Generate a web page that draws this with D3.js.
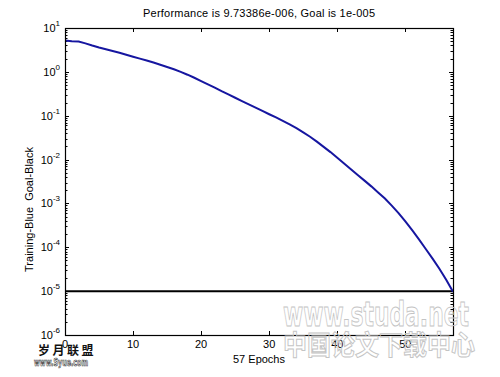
<!DOCTYPE html>
<html lang="en">
  <head>
    <meta charset="utf-8" />
    <title>Training performance</title>
    <script src="https://d3js.org/d3.v7.min.js"></script>
    <style>
      body {
        margin: 0;
        background: #fff;
        font-family: 'Liberation Sans', Arial, sans-serif;
      }
      svg {
        display: block;
      }
      .lbl {
        font-size: 11px;
        fill: #000;
      }
    </style>
  </head>
  <body>
    <div id="chart"></div>
    <script>
      /* ----------------------------- DATA ----------------------------- */
      // training error per epoch
      const epochs = d3.range(0, 58);
      const perf = [
        5.2, 5.0, 4.9, 4.47, 3.98, 3.59, 3.27, 2.99, 2.72, 2.45,
        2.21, 2.0, 1.82, 1.63, 1.455, 1.294, 1.143, 1.0, 0.861, 0.733,
        0.617, 0.519, 0.437, 0.363, 0.305, 0.257, 0.216, 0.182, 0.153, 0.129,
        0.108, 0.0912, 0.0759, 0.0631, 0.0519, 0.0417, 0.0331, 0.0257, 0.0195, 0.0148,
        0.011, 0.00813, 0.00603, 0.00447, 0.00331, 0.00245, 0.00178, 0.00129, 0.000891, 0.000603,
        0.000389, 0.000245, 0.000151, 0.0000912, 0.000055, 0.0000324, 0.0000182, 0.00000973,
      ];
      const goal = 1e-5;
      const xTicks = [0, 10, 20, 30, 40, 50];
      const yExps = [1, 0, -1, -2, -3, -4, -5, -6];

      const titleText = 'Performance is 9.73386e-006, Goal is 1e-005';
      const xLabel = '57 Epochs';
      const yLabel = 'Training-Blue  Goal-Black';

      /* ---------------------------- LAYOUT ---------------------------- */
      const svgW = 500,
        svgH = 377,
        m = { t: 28, l: 65 },
        w = 388,
        h = 307;

      const root = d3
        .select('#chart')
        .append('svg')
        .attr('width', svgW)
        .attr('height', svgH);

      const svg = root.append('g').attr('transform', `translate(${m.l},${m.t})`);

      /* ---------------------------- SCALES ---------------------------- */
      const x = d3.scaleLinear().domain([0, 57]).range([0, w]);
      const y = d3.scaleLog().domain([1e-6, 10]).range([h, 0]);

      /* ----------------------------- TICKS ---------------------------- */
      const minor = [];
      yExps.slice(1).forEach((e) => {
        for (let k = 2; k <= 9; k++) minor.push(k * Math.pow(10, e));
      });

      const tickG = svg.append('g').attr('stroke', '#000').attr('stroke-width', 1);

      // x ticks, inward on bottom and top
      xTicks.slice(1).forEach((t) => {
        const px = Math.round(x(t)) + 0.5;
        tickG.append('line').attr('x1', px).attr('x2', px).attr('y1', h).attr('y2', h - 4);
        tickG.append('line').attr('x1', px).attr('x2', px).attr('y1', 0).attr('y2', 4);
      });

      // y major & minor ticks, inward on left and right
      yExps.forEach((e) => {
        const py = Math.round(y(Math.pow(10, e))) + 0.5;
        tickG.append('line').attr('x1', 0).attr('x2', 4).attr('y1', py).attr('y2', py);
        tickG.append('line').attr('x1', w).attr('x2', w - 4).attr('y1', py).attr('y2', py);
      });
      minor.forEach((v) => {
        const py = Math.round(y(v)) + 0.5;
        tickG.append('line').attr('x1', 0).attr('x2', 2.5).attr('y1', py).attr('y2', py);
        tickG.append('line').attr('x1', w).attr('x2', w - 2.5).attr('y1', py).attr('y2', py);
      });

      /* ---------------------------- LINES ----------------------------- */
      const line = d3
        .line()
        .x((d) => x(d[0]))
        .y((d) => y(d[1]));

      svg
        .append('path')
        .attr('d', line([[0, goal], [57, goal]]))
        .attr('fill', 'none')
        .attr('stroke', '#000')
        .attr('stroke-width', 2);

      svg
        .append('path')
        .attr('d', line(epochs.map((e, i) => [e, perf[i]])))
        .attr('fill', 'none')
        .attr('stroke', '#1616a0')
        .attr('stroke-width', 2);

      // axes box
      svg
        .append('rect')
        .attr('x', 0.5)
        .attr('y', 0.5)
        .attr('width', w)
        .attr('height', h)
        .attr('fill', 'none')
        .attr('stroke', '#000')
        .attr('stroke-width', 1.2);

      /* ---------------------------- LABELS ---------------------------- */
      xTicks.forEach((t) => {
        svg
          .append('text')
          .attr('class', 'lbl')
          .attr('x', x(t))
          .attr('y', h + 13)
          .attr('text-anchor', 'middle')
          .text(t);
      });

      yExps.forEach((e) => {
        const t = svg
          .append('text')
          .attr('class', 'lbl')
          .attr('x', -5)
          .attr('y', y(Math.pow(10, e)) + 4)
          .attr('text-anchor', 'end');
        t.append('tspan').text('10');
        t.append('tspan')
          .attr('dy', -6)
          .attr('font-size', '8px')
          .text(e);
      });

      root
        .append('text')
        .attr('class', 'lbl')
        .attr('x', m.l + w / 2)
        .attr('y', 17)
        .attr('text-anchor', 'middle')
        .attr('textLength', 232)
        .text(titleText);

      root
        .append('text')
        .attr('class', 'lbl')
        .attr('x', m.l + w / 2)
        .attr('y', 363)
        .attr('text-anchor', 'middle')
        .text(xLabel);

      root
        .append('text')
        .attr('class', 'lbl')
        .attr('transform', `translate(33,${m.t + h / 2 + 28}) rotate(-90)`)
        .attr('text-anchor', 'middle')
        .attr('xml:space', 'preserve')
        .style('white-space', 'pre')
        .text(yLabel);

      /* -------------------------- WATERMARKS -------------------------- */
      const wm = root.append('g').attr('font-weight', 'bold');

      wm.append('text')
        .attr('x', 283)
        .attr('y', 326)
        .attr('font-family', 'DejaVu Sans')
        .attr('font-size', 34)
        .attr('textLength', 186)
        .attr('lengthAdjust', 'spacingAndGlyphs')
        .attr('fill', 'none')
        .attr('stroke', '#c4c4c4')
        .attr('stroke-width', 1)
        .text('www.studa.net');

      wm.append('text')
        .attr('x', 283)
        .attr('y', 355)
        .attr('font-family', 'Noto Sans CJK SC')
        .attr('font-size', 27)
        .attr('textLength', 192)
        .attr('lengthAdjust', 'spacingAndGlyphs')
        .attr('fill', 'none')
        .attr('stroke', '#c4c4c4')
        .attr('stroke-width', 1)
        .text('中国论文下载中心');

      wm.append('text')
        .attr('x', 38)
        .attr('y', 355)
        .attr('font-family', 'Noto Sans CJK SC')
        .attr('font-size', 12)
        .attr('letter-spacing', 2.5)
        .attr('fill', '#111')
        .text('岁月联盟');

      wm.append('text')
        .attr('x', 34)
        .attr('y', 366)
        .attr('font-family', 'DejaVu Sans')
        .attr('font-size', 10)
        .attr('textLength', 54)
        .attr('lengthAdjust', 'spacingAndGlyphs')
        .attr('fill', '#fff')
        .attr('stroke', '#333')
        .attr('stroke-width', 0.7)
        .text('www.Syue.com');
    </script>
  </body>
</html>
